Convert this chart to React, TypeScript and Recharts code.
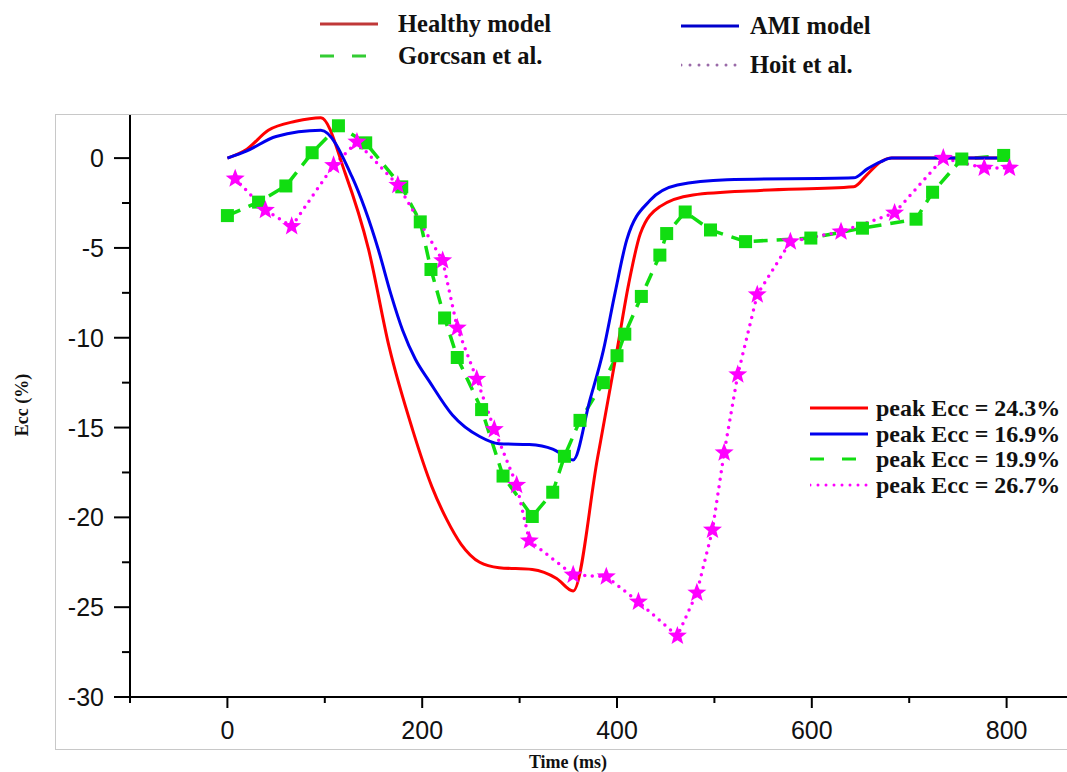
import { LineChart, Line, XAxis, YAxis } from 'recharts';

// time (ms) and circumferential strain (%)
const healthyTime = [0, 20, 42, 70, 96, 121, 145, 166, 190, 210, 225, 240, 259, 279, 313, 338, 355, 380, 400, 412, 424, 444, 478, 547, 643, 657, 671, 682, 802];
const healthyEcc = [0, 0.5, 1.55, 2.05, 2.25, -0.85, -5.1, -10.5, -15.1, -18.3, -20.1, -21.5, -22.5, -22.8, -22.9, -23.4, -24.1, -16.7, -10.7, -7, -4.2, -2.7, -2.05, -1.8, -1.6, -0.9, -0.2, 0, 0];

const amiTime = [0, 20, 50, 96, 128, 155, 168, 180, 193, 207, 231, 259, 279, 310, 334, 355, 372, 386, 398, 410, 434, 462, 513, 643, 657, 671, 682, 802];
const amiEcc = [0, 0.4, 1.2, 1.55, -1.05, -5.1, -7.6, -9.6, -11.2, -12.4, -14.3, -15.5, -15.9, -15.95, -16.2, -16.8, -13.5, -10.7, -7.5, -4.55, -2.35, -1.5, -1.2, -1.1, -0.6, -0.2, 0, 0];

const gorcsanTime = [0, 32, 60, 87, 114, 142, 179, 198, 209, 223, 236, 261, 283, 313, 334, 346, 362, 386, 400, 408, 425, 444, 451, 470, 496, 532, 599, 652, 707, 724, 754, 797];
const gorcsanEcc = [-3.2, -2.45, -1.55, 0.3, 1.8, 0.85, -1.6, -3.55, -6.2, -8.9, -11.1, -14.0, -17.7, -19.95, -18.6, -16.6, -14.6, -12.5, -11.0, -9.8, -7.7, -5.4, -4.2, -3.0, -4.0, -4.65, -4.45, -3.9, -3.4, -1.9, -0.05, 0.15];

const hoitTime = [8, 39, 66, 109, 133, 175, 221, 236, 256, 274, 297, 310, 355, 389, 422, 462, 482, 498, 510, 524, 544, 578, 630, 685, 735, 777, 803];
const hoitEcc = [-1.15, -2.9, -3.8, -0.4, 0.9, -1.5, -5.7, -9.45, -12.3, -15.1, -18.2, -21.3, -23.2, -23.3, -24.7, -26.6, -24.2, -20.7, -16.4, -12.05, -7.6, -4.65, -4.1, -3.05, 0, -0.55, -0.55];

const xTicks = [-100, 0, 100, 200, 300, 400, 500, 600, 700, 800];
const yTicks = [-30, -27.5, -25, -22.5, -20, -17.5, -15, -12.5, -10, -7.5, -5, -2.5, 0];

const peakLabels = ['peak Ecc = 24.3%', 'peak Ecc = 16.9%', 'peak Ecc = 19.9%', 'peak Ecc = 26.7%'];

const zip = (t: number[], v: number[]) => t.map((x, i) => ({ t: x, v: v[i] }));

const healthy = zip(healthyTime, healthyEcc);
const ami = zip(amiTime, amiEcc);
const gorcsan = zip(gorcsanTime, gorcsanEcc);
const hoit = zip(hoitTime, hoitEcc);

const RED = '#ff0000';
const BLUE = '#0000ee';
const GREEN = '#11dd11';
const MAGENTA = '#ff00ff';

const tickFont = { fontFamily: '"Liberation Sans", Arial, sans-serif', fontSize: 25, fill: '#111' };
const serifBold = { fontFamily: '"Liberation Serif", "Times New Roman", serif', fontWeight: 700, color: '#111' };

const YTick = (props: any) => {
  const { x, y, payload } = props;
  const major = payload.value % 5 === 0;
  return (
    <g>
      <line x1={x} x2={x - (major ? 16 : 8)} y1={y} y2={y} stroke="#000" strokeWidth={2} />
      {major && (
        <text x={x - 26} y={y} dy={9} textAnchor="end" {...tickFont}>
          {payload.value}
        </text>
      )}
    </g>
  );
};

const XTick = (props: any) => {
  const { x, y, payload } = props;
  const major = payload.value % 200 === 0;
  return (
    <g>
      <line x1={x} x2={x} y1={y} y2={y + (major ? 11 : 6)} stroke="#000" strokeWidth={2} />
      {major && (
        <text x={x} y={y + 42} textAnchor="middle" {...tickFont}>
          {payload.value}
        </text>
      )}
    </g>
  );
};

const Square = (props: any) => {
  const { cx, cy, index } = props;
  return <rect key={'sq' + index} x={cx - 6.5} y={cy - 6.5} width={13} height={13} fill={GREEN} />;
};

const starPoints = (cx: number, cy: number, ro: number, ri: number) => {
  const pts: string[] = [];
  for (let i = 0; i < 10; i++) {
    const r = i % 2 === 0 ? ro : ri;
    const a = -Math.PI / 2 + (i * Math.PI) / 5;
    pts.push(`${cx + r * Math.cos(a)},${cy + r * Math.sin(a)}`);
  }
  return pts.join(' ');
};

const Star = (props: any) => {
  const { cx, cy, index } = props;
  return <polygon key={'st' + index} points={starPoints(cx, cy, 10, 4.2)} fill={MAGENTA} />;
};

function Sample({ color, dash, width = 3, w = 58 }: { color: string; dash?: string; width?: number; w?: number }) {
  return (
    <svg width={w} height={8} style={{ display: 'block' }}>
      <line x1={0} x2={w} y1={4} y2={4} stroke={color} strokeWidth={width} strokeDasharray={dash} strokeLinecap={dash && dash.startsWith('0') ? 'round' : 'butt'} />
    </svg>
  );
}

function LegendRow({ left, top, color, dash, label, size, gap }: { left: number; top: number; color: string; dash?: string; label: string; size: number; gap: number }) {
  return (
    <div style={{ position: 'absolute', left, top, display: 'flex', alignItems: 'center', gap, whiteSpace: 'nowrap' }}>
      <Sample color={color} dash={dash} />
      <span style={{ ...serifBold, fontSize: size, lineHeight: 1 }}>{label}</span>
    </div>
  );
}

export default function App() {
  return (
    <div style={{ position: 'absolute', left: 0, top: 0, width: 1067, height: 772, overflow: 'hidden', background: '#fff' }}>
      {/* grey frame around the plot */}
      <div style={{ position: 'absolute', left: 55, top: 114, width: 1100, height: 634, border: '1.5px solid #c8c8c8' }} />

      <LineChart width={1067} height={772} data={healthy} margin={{ top: 115, right: 0, bottom: 45, left: 72 }}>
        <XAxis
          type="number"
          dataKey="t"
          height={30}
          domain={[-100, 862]}
          ticks={xTicks}
          allowDataOverflow
          axisLine={{ stroke: '#000', strokeWidth: 2 }}
          tickLine={false}
          tickSize={0}
          tickMargin={0}
          tick={<XTick />}
          interval={0}
        />
        <YAxis
          type="number"
          dataKey="v"
          width={58}
          domain={[-30, 2.4]}
          ticks={yTicks}
          allowDataOverflow
          axisLine={{ stroke: '#000', strokeWidth: 2 }}
          tickLine={false}
          tickSize={0}
          tickMargin={0}
          tick={<YTick />}
          interval={0}
        />
        <Line data={gorcsan} dataKey="v" type="linear" stroke={GREEN} strokeWidth={3.5} strokeDasharray="14 9" dot={Square} activeDot={false} isAnimationActive={false} />
        <Line data={hoit} dataKey="v" type="linear" stroke={MAGENTA} strokeWidth={3.5} strokeDasharray="0 7.5" strokeLinecap="round" dot={Star} activeDot={false} isAnimationActive={false} />
        <Line data={healthy} dataKey="v" type="monotone" stroke={RED} strokeWidth={3} dot={false} activeDot={false} isAnimationActive={false} />
        <Line data={ami} dataKey="v" type="monotone" stroke={BLUE} strokeWidth={3} dot={false} activeDot={false} isAnimationActive={false} />
      </LineChart>

      {/* axis titles */}
      <div style={{ position: 'absolute', left: 22, top: 405, transform: 'translate(-50%, -50%) rotate(-90deg)', ...serifBold, fontSize: 18, whiteSpace: 'nowrap' }}>
        Ecc (%)
      </div>
      <div style={{ position: 'absolute', left: 568, top: 762, transform: 'translate(-50%, -50%)', ...serifBold, fontSize: 18, whiteSpace: 'nowrap' }}>
        Time (ms)
      </div>

      {/* top legend */}
      <LegendRow left={320} top={12} color="#c03838" label="Healthy model" size={24.5} gap={20} />
      <LegendRow left={320} top={44} color="#33cc33" dash="14 18" label="Gorcsan et al." size={24.5} gap={20} />
      <LegendRow left={681} top={14} color="#0000cc" label="AMI model" size={24.5} gap={11} />
      <LegendRow left={681} top={53} color="#9a6aa8" dash="0 9" label="Hoit et al." size={24.5} gap={11} />

      {/* peak value legend inside the plot */}
      <LegendRow left={810} top={396} color={RED} label={peakLabels[0]} size={24} gap={8} />
      <LegendRow left={810} top={422} color={BLUE} label={peakLabels[1]} size={24} gap={8} />
      <LegendRow left={810} top={447} color={GREEN} dash="14 18" label={peakLabels[2]} size={24} gap={8} />
      <LegendRow left={810} top={473} color={MAGENTA} dash="0 8" label={peakLabels[3]} size={24} gap={8} />
    </div>
  );
}
